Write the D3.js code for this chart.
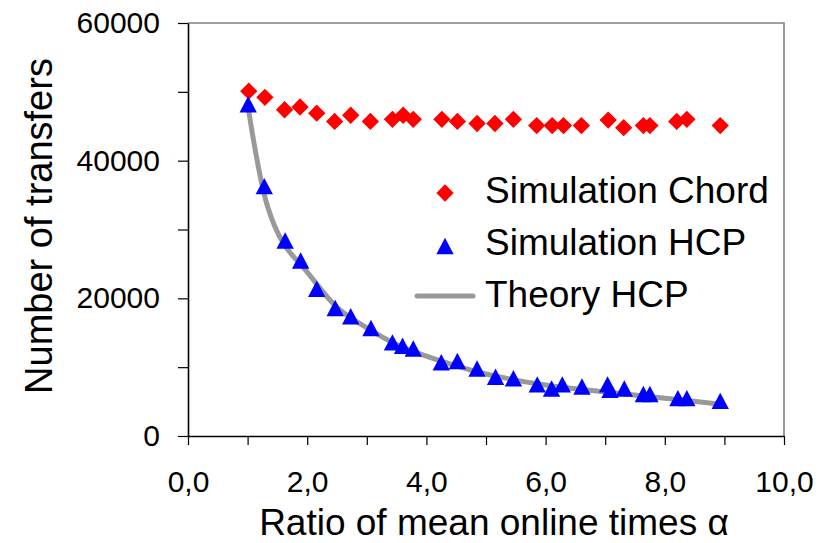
<!DOCTYPE html>
<html>
<head>
<meta charset="utf-8">
<script src="https://cdn.jsdelivr.net/npm/d3@7"></script>
<style>
  body { margin: 0; background: #fff; }
  text { font-family: "Liberation Sans", Arial, sans-serif; fill: #000; }
</style>
</head>
<body>
<script>
// values
const chordX = [1.02, 1.29, 1.62, 1.88, 2.16, 2.46, 2.73, 3.06, 3.43, 3.61, 3.78, 4.26, 4.52, 4.85, 5.15, 5.46, 5.85, 6.11, 6.30, 6.60, 7.05, 7.31, 7.64, 7.75, 8.20, 8.37, 8.93];
const chordY = [50100, 49200, 47400, 47800, 46900, 45700, 46600, 45700, 46000, 46600, 46000, 46000, 45700, 45400, 45400, 46000, 45100, 45100, 45100, 45100, 45900, 44800, 45100, 45100, 45700, 46000, 45100];

const hcpX = [1.01, 1.28, 1.63, 1.89, 2.16, 2.47, 2.73, 3.07, 3.43, 3.60, 3.78, 4.25, 4.52, 4.85, 5.16, 5.46, 5.86, 6.10, 6.28, 6.61, 7.04, 7.08, 7.32, 7.64, 7.75, 8.22, 8.37, 8.93];
const hcpY = [48200, 36300, 28400, 25500, 21400, 18600, 17400, 15700, 13600, 13100, 12700, 10700, 10900, 9800, 8600, 8400, 7500, 6900, 7500, 7200, 7500, 6700, 6900, 6100, 6100, 5500, 5500, 5100];

const theoryX = [1.0, 1.33, 1.6, 2.0, 2.5, 3.0, 3.5, 4.0, 4.5, 5.0, 6.0, 7.0, 8.0, 8.93];
const theoryY = [48200, 33500, 28000, 23800, 18700, 15700, 13300, 11600, 10200, 9000, 7400, 6400, 5500, 4600];

const xTicks = [0, 1, 2, 3, 4, 5, 6, 7, 8, 9, 10];
const yTicks = [0, 10000, 20000, 30000, 40000, 50000, 60000];
const legendLabels = ["Simulation Chord", "Simulation HCP", "Theory HCP"];

const width = 833, height = 543;
const plotLeft = 188, plotRight = 784, plotTop = 23, plotBottom = 436;

const svg = d3.select("body").append("svg")
    .attr("width", width)
    .attr("height", height);

const x = d3.scaleLinear().domain([0, 10]).range([plotLeft, plotRight]);
const y = d3.scaleLinear().domain([0, 60000]).range([plotBottom, plotTop]);

// grey frame on top and right
svg.append("path")
    .attr("d", `M${plotLeft},${plotTop}H${plotRight}V${plotBottom}`)
    .attr("fill", "none")
    .attr("stroke", "#808080")
    .attr("stroke-width", 1.6);

// axes
const yAxis = svg.append("g")
    .attr("transform", `translate(${plotLeft},0)`)
    .call(d3.axisLeft(y)
        .tickValues(yTicks)
        .tickSize(10)
        .tickSizeOuter(0)
        .tickPadding(18)
        .tickFormat(d => d % 20000 === 0 ? d : ""));

const xAxis = svg.append("g")
    .attr("transform", `translate(0,${plotBottom})`)
    .call(d3.axisBottom(x)
        .tickValues(xTicks)
        .tickSize(9)
        .tickSizeOuter(0)
        .tickPadding(26)
        .tickFormat(d => d % 2 === 0 ? d.toFixed(1).replace(".", ",") : ""));

[xAxis, yAxis].forEach(g => {
    g.select(".domain").attr("stroke", "#000").attr("stroke-width", 1.6);
    g.selectAll(".tick line").attr("stroke", "#000").attr("stroke-width", 1.2);
    g.selectAll(".tick text")
        .attr("font-size", 30)
        .attr("font-family", "Liberation Sans, Arial, sans-serif")
        .attr("fill", "#000");
});

// axis titles
svg.append("text")
    .attr("x", 494)
    .attr("y", 535)
    .attr("text-anchor", "middle")
    .attr("font-size", 37)
    .text("Ratio of mean online times α");

svg.append("text")
    .attr("transform", "translate(52,226) rotate(-90)")
    .attr("text-anchor", "middle")
    .attr("font-size", 38)
    .text("Number of transfers");

// symbols
const diamond = d3.symbol().type(d3.symbolSquare).size(150);
const triangle = {
    draw(ctx, size) {
        const w = Math.sqrt(size), h = w * 0.95;
        ctx.moveTo(0, -h / 2);
        ctx.lineTo(w / 2, h / 2);
        ctx.lineTo(-w / 2, h / 2);
        ctx.closePath();
    }
};
const tri = d3.symbol().type(triangle).size(300);

// theory line
const theory = theoryX.map((v, i) => [v, theoryY[i]]);
svg.append("path")
    .datum(theory)
    .attr("fill", "none")
    .attr("stroke", "#999999")
    .attr("stroke-width", 5)
    .attr("stroke-linejoin", "round")
    .attr("stroke-linecap", "round")
    .attr("d", d3.line()
        .x(d => x(d[0]))
        .y(d => y(d[1]))
        .curve(d3.curveCatmullRom.alpha(0.5)));

// chord diamonds
svg.append("g").selectAll("path")
    .data(chordX.map((v, i) => [v, chordY[i]]))
    .join("path")
    .attr("d", diamond)
    .attr("transform", d => `translate(${x(d[0])},${y(d[1])}) rotate(45)`)
    .attr("fill", "#ff0000");

// HCP triangles
svg.append("g").selectAll("path")
    .data(hcpX.map((v, i) => [v, hcpY[i]]))
    .join("path")
    .attr("d", tri)
    .attr("transform", d => `translate(${x(d[0])},${y(d[1])})`)
    .attr("fill", "#0000ff");

// legend
const legend = svg.append("g");
legend.append("path")
    .attr("d", diamond)
    .attr("transform", "translate(445,193) rotate(45)")
    .attr("fill", "#ff0000");
legend.append("path")
    .attr("d", tri)
    .attr("transform", "translate(445,246)")
    .attr("fill", "#0000ff");
legend.append("line")
    .attr("x1", 417).attr("x2", 473)
    .attr("y1", 296).attr("y2", 296)
    .attr("stroke", "#999999")
    .attr("stroke-width", 5)
    .attr("stroke-linecap", "round");

legend.selectAll("text")
    .data(legendLabels)
    .join("text")
    .attr("x", 485)
    .attr("y", (d, i) => [203, 255, 307][i])
    .attr("font-size", 37)
    .text(d => d);
</script>
</body>
</html>
